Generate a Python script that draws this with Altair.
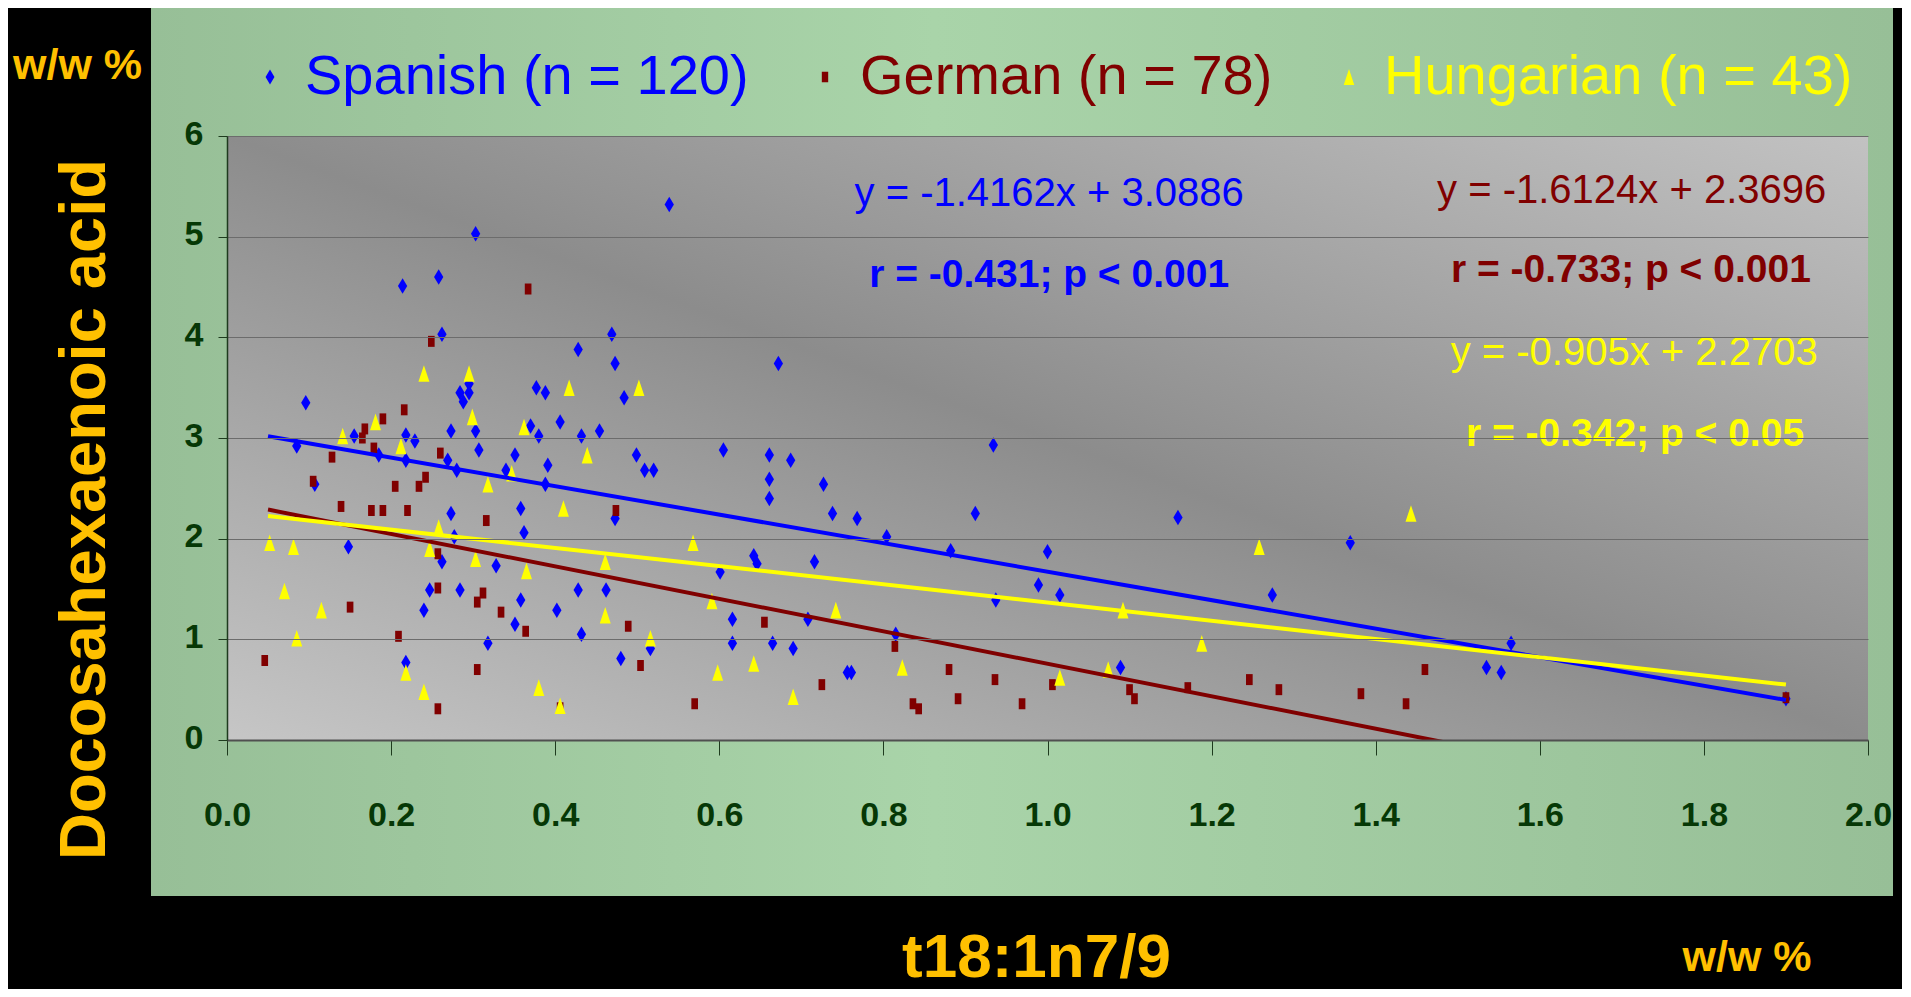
import altair as alt
import pandas as pd

# ---------------- data ----------------
series_names = ["Spanish (n = 120)", "German (n = 78)", "Hungarian (n = 43)"]
series_colors = ["#0000FF", "#800000", "#FFFF00"]

spanish_x = [0.303, 0.214, 0.258, 0.262, 0.428, 0.469, 0.473, 0.484, 0.377, 0.388, 0.284, 0.295, 0.295,
             0.096, 0.288, 0.155, 0.218, 0.229, 0.273, 0.303, 0.370, 0.380, 0.406, 0.432, 0.454, 0.085,
             0.185, 0.218, 0.269, 0.280, 0.307, 0.351, 0.340, 0.391, 0.388, 0.499, 0.509, 0.107, 0.273,
             0.358, 0.473, 0.148, 0.277, 0.362, 0.262, 0.328, 0.247, 0.284, 0.358, 0.428, 0.462, 0.240,
             0.402, 0.351, 0.432, 0.318, 0.516, 0.480, 0.218,
             0.539, 0.672,
             0.520, 0.605, 0.661, 0.687, 0.661, 0.661, 0.727, 0.738, 0.768, 0.934, 0.912, 0.804, 0.882,
             1.000, 0.989, 1.015, 0.937, 0.601, 0.642, 0.646, 0.716, 0.616, 0.708, 0.815, 0.616, 0.665,
             0.690, 0.756, 0.761,
             1.089, 1.159, 1.274, 1.369, 1.535, 1.553, 1.565, 1.900]
spanish_y = [5.03, 4.51, 4.60, 4.03, 3.88, 4.03, 3.74, 3.40, 3.50, 3.45, 3.45, 3.45, 3.54,
             3.35, 3.36, 3.02, 3.03, 2.97, 3.07, 3.07, 3.12, 3.02, 3.16, 3.02, 3.07, 2.92,
             2.83, 2.78, 2.78, 2.68, 2.88, 2.83, 2.68, 2.73, 2.54, 2.83, 2.68, 2.54, 2.25,
             2.30, 2.20, 1.92, 2.02, 2.06, 1.77, 1.73, 1.49, 1.49, 1.39, 1.49, 1.49, 1.29,
             1.29, 1.15, 1.05, 0.96, 0.91, 0.81, 0.77,
             5.32, 3.74,
             2.68, 2.88, 2.83, 2.78, 2.59, 2.40, 2.54, 2.25, 2.20, 2.93, 2.25, 2.02, 1.88,
             1.87, 1.54, 1.44, 1.39, 1.67, 1.83, 1.75, 1.77, 1.20, 1.20, 1.05, 0.96, 0.96,
             0.91, 0.67, 0.67,
             0.72, 2.21, 1.44, 1.96, 0.72, 0.67, 0.96, 0.41]

german_x = [0.367, 0.249,
            0.216, 0.190, 0.168, 0.165, 0.179, 0.128, 0.260, 0.105, 0.242, 0.205, 0.234, 0.139,
            0.176, 0.190, 0.220, 0.316, 0.474, 0.257, 0.257, 0.312, 0.305, 0.150, 0.334, 0.489,
            0.364, 0.209, 0.046, 0.504, 0.305, 0.406, 0.257,
            0.570, 0.655, 0.725, 0.814, 0.836, 0.843, 0.880, 0.891, 0.936, 0.969, 1.006,
            1.100, 1.106, 1.171, 1.246, 1.282, 1.382, 1.437, 1.460, 1.900]
german_y = [4.48, 3.96,
            3.28, 3.19, 3.09, 3.00, 2.90, 2.81, 2.85, 2.57, 2.61, 2.52, 2.52, 2.32,
            2.28, 2.28, 2.28, 2.18, 2.28, 1.85, 1.51, 1.46, 1.37, 1.32, 1.27, 1.13,
            1.08, 1.03, 0.79, 0.74, 0.70, 0.32, 0.31,
            0.36, 1.17, 0.55, 0.93, 0.36, 0.31, 0.70, 0.41, 0.60, 0.36, 0.55,
            0.50, 0.41, 0.52, 0.60, 0.50, 0.46, 0.36, 0.70, 0.42]

hungarian_x = [0.240, 0.295, 0.417, 0.502,
               0.141, 0.181, 0.212, 0.299, 0.362, 0.439, 0.347, 0.318, 0.410, 0.258, 0.052,
               0.081, 0.247, 0.303, 0.365, 0.461, 0.070, 0.461, 0.115, 0.085, 0.516, 0.218,
               0.240, 0.380, 0.406,
               0.568, 0.591, 0.742, 0.598, 0.642, 0.690, 0.823, 1.015,
               1.074, 1.092, 1.188, 1.258, 1.443]
hungarian_y = [3.64, 3.64, 3.50, 3.50,
               3.02, 3.16, 2.92, 3.21, 3.11, 2.83, 2.65, 2.54, 2.30, 2.11, 1.96,
               1.92, 1.90, 1.80, 1.68, 1.77, 1.48, 1.24, 1.29, 1.01, 1.01, 0.67,
               0.48, 0.52, 0.34,
               1.96, 1.38, 1.29, 0.67, 0.76, 0.43, 0.72, 0.62,
               0.70, 1.29, 0.96, 1.92, 2.25]

# regression lines as printed on the chart
slopes = [-1.4162, -1.6124, -0.905]
intercepts = [3.0886, 2.3696, 2.2703]
trend_x_start = [0.05, 0.05, 0.05]
trend_x_end = [1.9, 1.9, 1.9]

# annotation texts (positions in data units)
eq_texts = ["y = -1.4162x + 3.0886", "y = -1.6124x + 2.3696", "y = -0.905x + 2.2703"]
eq_x = [1.002, 1.712, 1.715]
eq_y = [5.307, 5.338, 3.727]
r_texts = ["r = -0.431; p < 0.001", "r = -0.733; p < 0.001", "r = -0.342; p < 0.05"]
r_x = [1.002, 1.711, 1.716]
r_y = [4.497, 4.547, 2.925]

x_ticks = [0.0, 0.2, 0.4, 0.6, 0.8, 1.0, 1.2, 1.4, 1.6, 1.8, 2.0]
y_ticks = [0, 1, 2, 3, 4, 5, 6]

# ---------------- styling ----------------
W, H = 1641, 604
GOLD = "#FFC000"
TICK_GREEN = "#063806"
SANS = "Liberation Sans"

diamond = "M0,-1L0.6,0L0,1L-0.6,0Z"
square = "M-0.43,-0.71L0.43,-0.71L0.43,0.71L-0.43,0.71Z"
triangle = "M0,-1.07L0.71,1.07L-0.71,1.07Z"

pts = pd.concat([
    pd.DataFrame({"series": series_names[0], "x": spanish_x, "y": spanish_y}),
    pd.DataFrame({"series": series_names[1], "x": german_x, "y": german_y}),
    pd.DataFrame({"series": series_names[2], "x": hungarian_x, "y": hungarian_y}),
], ignore_index=True)

rows = []
for name, m, b, x0, x1 in zip(series_names, slopes, intercepts, trend_x_start, trend_x_end):
    rows.append({"series": name, "x": x0, "y": b + m * x0})
    rows.append({"series": name, "x": x1, "y": b + m * x1})
trend = pd.DataFrame(rows)

eq_df = pd.DataFrame({"x": eq_x, "y": eq_y, "text": eq_texts, "col": series_colors})
r_df = pd.DataFrame({"x": r_x, "y": r_y, "text": r_texts, "col": series_colors})
one = pd.DataFrame({"a": [0]})

x_axis = alt.Axis(values=x_ticks, format=".1f", labelFont=SANS, labelFontSize=34,
                  labelFontWeight="bold", labelColor=TICK_GREEN, labelPadding=43,
                  labelFlush=False, labelOverlap=False,
                  tickSize=15, tickColor="#1e3b1e", tickWidth=1,
                  domainColor="#505050", domainWidth=2, grid=False, zindex=1,
                  titleFont=SANS, titleFontSize=62, titleFontWeight="bold", titleColor=GOLD,
                  titleX=809, titleY=236, titleAlign="center", titleBaseline="alphabetic")
y_axis = alt.Axis(values=y_ticks, format="d", labelFont=SANS, labelFontSize=34,
                  labelFontWeight="bold", labelColor=TICK_GREEN, labelPadding=15, labelOffset=-2,
                  tickSize=9, tickColor="#1e3b1e", tickWidth=1,
                  domainColor="#1e3b1e", domainWidth=1.5,
                  grid=True, gridColor="#6c6c6c", gridWidth=1, zindex=1,
                  titleFont=SANS, titleFontSize=65, titleFontWeight="bold", titleColor=GOLD,
                  titleAngle=270, titleX=-123, titleY=373, titleAlign="center",
                  titleBaseline="alphabetic")

x_enc = alt.X("x:Q", title="t18:1n7/9", scale=alt.Scale(domain=[0, 2], nice=False, zero=False), axis=x_axis)
y_enc = alt.Y("y:Q", title="Docosahexaenoic acid", scale=alt.Scale(domain=[0, 6], nice=False), axis=y_axis)

label_color_expr = ("datum.value === '" + series_names[0] + "' ? '" + series_colors[0] + "' : "
                    "datum.value === '" + series_names[1] + "' ? '" + series_colors[1] + "' : '"
                    + series_colors[2] + "'")
legend = alt.Legend(title=None, orient="none", legendX=15, legendY=-87, direction="horizontal",
                    labelFont=SANS, labelFontSize=56, labelLimit=2000, symbolSize=220,
                    symbolStrokeWidth=0, symbolOpacity=1, labelOffset=7, columnPadding=48,
                    padding=0, labelColor={"expr": label_color_expr})

green_fill = alt.LinearGradient(gradient="linear", x1=0, y1=0, x2=1, y2=0, stops=[
    alt.GradientStop(offset=0, color="#97bf97"),
    alt.GradientStop(offset=0.45, color="#a9d4a9"),
    alt.GradientStop(offset=1, color="#97bf97")])
gray_fill = alt.LinearGradient(gradient="linear", x1=0, y1=1, x2=1, y2=0, stops=[
    alt.GradientStop(offset=0, color="#c6c6c6"),
    alt.GradientStop(offset=0.5, color="#8c8c8c"),
    alt.GradientStop(offset=1, color="#c2c2c2")])

green = alt.Chart(one).mark_rect(fill=green_fill).encode(
    x=alt.value(-76), x2=alt.value(W + 25), y=alt.value(-130), y2=alt.value(H + 156))
gray = alt.Chart(one).mark_rect(fill=gray_fill).encode(
    x=alt.value(0), x2=alt.value(W), y=alt.value(0), y2=alt.value(H))

points = alt.Chart(pts).mark_point(filled=True, size=240, opacity=1, strokeWidth=0).encode(
    x=x_enc, y=y_enc,
    color=alt.Color("series:N", scale=alt.Scale(domain=series_names, range=series_colors), legend=legend),
    shape=alt.Shape("series:N", scale=alt.Scale(domain=series_names, range=[diamond, square, triangle]), legend=legend),
)

lines = alt.Chart(trend).mark_line(strokeWidth=4, clip=True).encode(
    x=x_enc, y=y_enc,
    stroke=alt.Stroke("series:N", scale=alt.Scale(domain=series_names, range=series_colors), legend=None),
    detail="series:N",
)

eq_text = alt.Chart(eq_df).mark_text(font=SANS, fontSize=40, align="center", baseline="alphabetic").encode(
    x=x_enc, y=y_enc, text="text:N", fill=alt.Fill("col:N", scale=None))
r_text = alt.Chart(r_df).mark_text(font=SANS, fontSize=39, fontWeight="bold", align="center",
                                   baseline="alphabetic").encode(
    x=x_enc, y=y_enc, text="text:N", fill=alt.Fill("col:N", scale=None))

unit_tl = alt.Chart(one).mark_text(text="w/w %", font=SANS, fontWeight="bold", fontSize=43, color=GOLD,
                                   align="center", baseline="alphabetic").encode(
    x=alt.value(-149.5), y=alt.value(-57))
unit_br = alt.Chart(one).mark_text(text="w/w %", font=SANS, fontWeight="bold", fontSize=43, color=GOLD,
                                   align="center", baseline="alphabetic").encode(
    x=alt.value(1520), y=alt.value(835))

chart = alt.layer(green, gray, points, lines, eq_text, r_text, unit_tl, unit_br).properties(
    width=W, height=H, background="black",
    padding={"left": 219, "top": 128, "right": 34, "bottom": 249},
    autosize=alt.AutoSizeParams(type="none"),
).configure_view(stroke=None)

chart.save("out.html", embed_options={"renderer": "svg", "actions": False})
